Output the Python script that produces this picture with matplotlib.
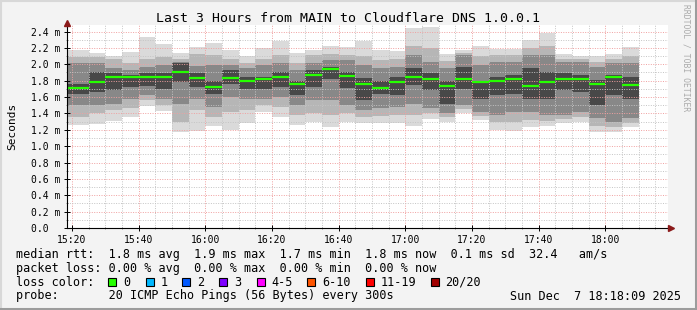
import numpy as np
import matplotlib
matplotlib.use("Agg")
import matplotlib.pyplot as plt
from matplotlib.patches import Rectangle

W, H = 697, 310

# smokeping data, one entry per 5 minute step (ms)
bar_start = "15:20"
step_min = 5
median = [1.71, 1.78, 1.85, 1.84, 1.85, 1.85, 1.90, 1.83, 1.72, 1.83, 1.79, 1.82,
          1.85, 1.755, 1.865, 1.94, 1.86, 1.76, 1.71, 1.78, 1.84, 1.82, 1.74, 1.82,
          1.78, 1.80, 1.82, 1.73, 1.78, 1.82, 1.82, 1.76, 1.84, 1.75]
# smoke bands, outermost (min..max) to innermost
ping_max = [2.17, 2.14, 2.10, 2.15, 2.33, 2.25, 2.14, 2.21, 2.265, 2.18, 2.10, 2.20,
            2.28, 2.14, 2.18, 2.22, 2.21, 2.28, 2.18, 2.16, 2.44, 2.46, 2.13, 2.17,
            2.22, 2.19, 2.19, 2.30, 2.38, 2.12, 2.10, 2.10, 2.13, 2.21]
ping_min = [1.253, 1.265, 1.306, 1.36, 1.485, 1.43, 1.17, 1.18, 1.25, 1.20, 1.28, 1.42,
            1.35, 1.253, 1.29, 1.24, 1.29, 1.28, 1.28, 1.28, 1.25, 1.33, 1.30, 1.40,
            1.32, 1.20, 1.18, 1.23, 1.25, 1.28, 1.29, 1.17, 1.17, 1.23]
light_hi = [2.09, 2.09, 2.06, 2.01, 2.07, 2.09, 2.07, 2.13, 2.11, 2.07, 2.01, 2.07,
            2.11, 2.01, 2.11, 2.13, 2.11, 2.10, 2.05, 2.06, 2.22, 2.20, 2.04, 2.14,
            2.10, 2.11, 2.11, 2.20, 2.22, 2.07, 2.06, 2.03, 2.07, 2.10]
light_lo = [1.355, 1.40, 1.44, 1.46, 1.56, 1.50, 1.29, 1.44, 1.355, 1.42, 1.44, 1.50,
            1.48, 1.38, 1.40, 1.38, 1.40, 1.36, 1.37, 1.38, 1.38, 1.40, 1.35, 1.45,
            1.37, 1.29, 1.30, 1.32, 1.31, 1.33, 1.35, 1.25, 1.23, 1.28]
mid_hi = [2.01, 2.01, 1.95, 1.93, 1.97, 1.99, 2.03, 1.98, 1.99, 1.99, 1.95, 1.99,
          2.01, 1.93, 2.01, 2.05, 2.05, 1.99, 1.95, 1.97, 2.11, 2.03, 1.95, 2.11,
          1.99, 2.03, 2.03, 2.11, 2.11, 2.03, 2.03, 1.97, 2.01, 2.01]
mid_lo = [1.50, 1.50, 1.52, 1.58, 1.62, 1.58, 1.52, 1.58, 1.48, 1.60, 1.58, 1.58,
          1.60, 1.50, 1.56, 1.56, 1.50, 1.44, 1.46, 1.48, 1.52, 1.46, 1.40, 1.50,
          1.42, 1.38, 1.42, 1.42, 1.38, 1.38, 1.42, 1.34, 1.30, 1.34]
core_hi = [1.76, 1.91, 1.89, 1.87, 1.89, 1.89, 2.01, 1.89, 1.80, 1.93, 1.85, 1.85,
           1.91, 1.80, 1.93, 1.97, 1.91, 1.83, 1.79, 1.85, 1.95, 1.89, 1.79, 1.97,
           1.79, 1.85, 1.87, 1.95, 1.91, 1.89, 1.87, 1.81, 1.87, 1.85]
core_lo = [1.64, 1.66, 1.68, 1.72, 1.74, 1.70, 1.78, 1.72, 1.64, 1.76, 1.70, 1.70,
           1.72, 1.62, 1.72, 1.82, 1.71, 1.56, 1.64, 1.62, 1.75, 1.69, 1.52, 1.70,
           1.58, 1.62, 1.64, 1.58, 1.58, 1.69, 1.66, 1.50, 1.62, 1.58]
band_colors = ["#dadada", "#b6b6b6", "#888888", "#484848"]

xtick_labels = ["15:20", "15:40", "16:00", "16:20", "16:40", "17:00", "17:20", "17:40", "18:00"]
ytick_vals = [0.0, 0.2, 0.4, 0.6, 0.8, 1.0, 1.2, 1.4, 1.6, 1.8, 2.0, 2.2, 2.4]

loss_labels = ["0", "1", "2", "3", "4-5", "6-10", "11-19", "20/20"]
loss_colors = ["#26ff00", "#00b8ff", "#0059ff", "#7e00ff", "#ff00ff", "#ff5500", "#ff0000", "#a10000"]

legend_rows = [
    "median rtt:  1.8 ms avg  1.9 ms max  1.7 ms min  1.8 ms now  0.1 ms sd  32.4   am/s",
    "packet loss: 0.00 % avg  0.00 % max  0.00 % min  0.00 % now",
]
probe_text = "probe:       20 ICMP Echo Pings (56 Bytes) every 300s"
date_text = "Sun Dec  7 18:18:09 2025"


def to_min(s):
    h, m = s.split(":")
    return int(h) * 60 + int(m)


def px(x, y):
    return x / W, 1 - y / H


plt.rcParams['font.family'] = "DejaVu Sans Mono"

fig = plt.figure(figsize=(W / 100, H / 100), dpi=100, facecolor="#f3f3f3")

# plot area in pixels: x 67..668, y 25..228
ax = fig.add_axes([67 / W, (H - 228) / H, (668 - 67) / W, (228 - 25) / H])
ax.set_facecolor("white")

x0 = to_min("15:20")
xmin, xmax = x0 - 1.5, x0 + 178.8
ax.set_xlim(xmin, xmax)
ax.set_ylim(0, 2.48)

n = len(median)
starts = (to_min(bar_start) + step_min * np.arange(n)).astype(float)
widths = np.full(n, float(step_min))
# first step reaches back to the left edge
widths[0] += starts[0] - xmin
starts[0] = xmin

bands = [(ping_min, ping_max), (light_lo, light_hi), (mid_lo, mid_hi), (core_lo, core_hi)]
for k, ((lo, hi), col) in enumerate(zip(bands, band_colors)):
    lo = np.array(lo)
    hi = np.array(hi)
    ax.bar(starts, hi - lo, bottom=lo, width=widths, align="edge", color=col, lw=0, zorder=1 + k * 0.1)
ax.hlines(median, starts, starts + widths, colors="#26ff00", lw=1.6, zorder=4)

# grid
xt = [to_min(t) for t in xtick_labels]
ax.set_xticks(xt)
ax.set_xticklabels(xtick_labels)
ax.set_xticks(np.arange(to_min("15:20"), xmax, 5), minor=True)
ax.set_yticks(ytick_vals)
ax.set_yticklabels(["0.0  "] + ["%.1f m" % v for v in ytick_vals[1:]])
ax.set_yticks(np.arange(0, 2.45, 0.1), minor=True)

ax.set_axisbelow(False)
ax.grid(which="minor", color="#c4c4c4", lw=0.7, ls=(0, (1, 1.5)), zorder=3)
ax.grid(which="major", color="#f0a0a0", lw=0.7, ls=(0, (1, 1.5)), zorder=3.1)

ax.tick_params(which="major", direction="inout", length=4, width=0.7, labelsize=7, pad=3,
               color="black")
ax.tick_params(which="minor", direction="inout", length=2, width=0.5, color="#666666")

for s in ["top", "right"]:
    ax.spines[s].set_visible(False)
for s in ["left", "bottom"]:
    ax.spines[s].set_linewidth(0.8)
    ax.spines[s].set_zorder(5)

# axis arrows
ax.plot([1.005], [0], marker=">", ms=4, color="#8b1a1a", transform=ax.transAxes, clip_on=False, zorder=6)
ax.plot([0], [1.012], marker="^", ms=4, color="#8b1a1a", transform=ax.transAxes, clip_on=False, zorder=6)

ax.set_ylabel("Seconds", fontsize=8, labelpad=10)

# texts
fig.text(*px(348, 19), "Last 3 Hours from MAIN to Cloudflare DNS 1.0.0.1", fontsize=9.5,
         ha="center", va="center")
fig.text(*px(686, 4), "RRDTOOL / TOBI OETIKER", fontsize=5.8, color="#aaaaaa", rotation=270,
         ha="center", va="top")

row_y = [254.5, 268.3, 282.3, 296]
for txt, y in zip(legend_rows, row_y):
    fig.text(*px(16, y), txt, fontsize=8.5, va="center", ha="left")
fig.text(*px(16, row_y[2]), "loss color:", fontsize=8.5, va="center", ha="left")
box_x = [108.3, 145.7, 182.3, 219.3, 256.7, 307.3, 365.7, 430.7]
for bx, lab, col in zip(box_x, loss_labels, loss_colors):
    bxf, byf = px(bx, row_y[2] + 4)
    fig.add_artist(Rectangle((bxf, byf), 8 / W, 8 / H, transform=fig.transFigure,
                             facecolor=col, edgecolor="black", lw=0.8))
    fig.text(*px(bx + 14.5, row_y[2]), lab, fontsize=8.5, va="center", ha="left")
fig.text(*px(16, row_y[3]), probe_text, fontsize=8.5, va="center", ha="left")
fig.text(*px(681, row_y[3]), date_text, fontsize=8.5, va="center", ha="right")

# image frame
fig.add_artist(plt.Line2D([0, 1], [1 - 1 / H, 1 - 1 / H], color="#d8d8d8", lw=1.5, transform=fig.transFigure))
fig.add_artist(plt.Line2D([1 / W, 1 / W], [0, 1], color="#d8d8d8", lw=1.5, transform=fig.transFigure))
fig.add_artist(plt.Line2D([0, 1], [1.5 / H, 1.5 / H], color="#9c9c9c", lw=2.2, transform=fig.transFigure))
fig.add_artist(plt.Line2D([1 - 1.5 / W, 1 - 1.5 / W], [0, 1], color="#9c9c9c", lw=2.2, transform=fig.transFigure))

fig.savefig("out.png", dpi=100, facecolor=fig.get_facecolor())
